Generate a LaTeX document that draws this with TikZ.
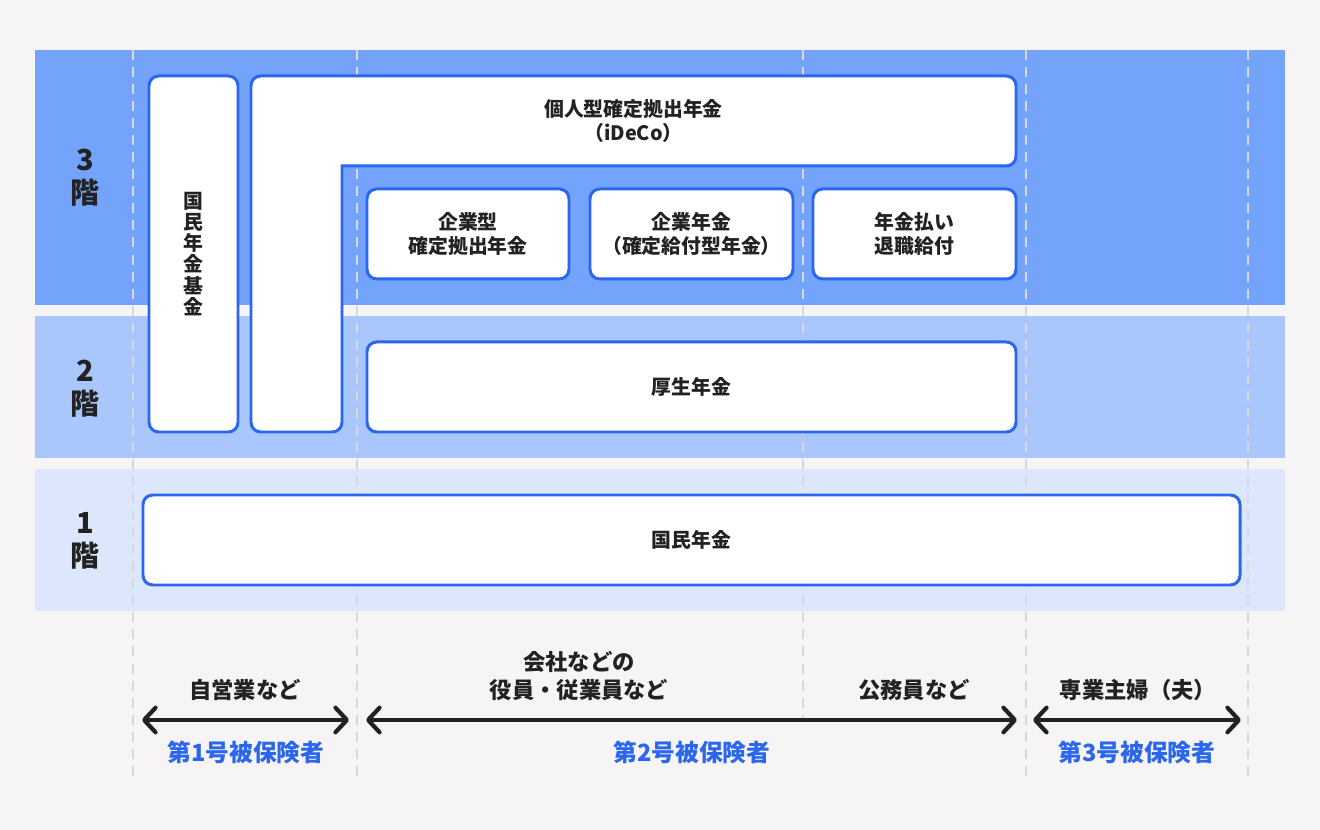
\documentclass[tikz,border=0pt]{standalone}
\usepackage{fontspec}
\setmainfont{Noto Sans CJK JP}
\usetikzlibrary{arrows.meta}
\definecolor{fond}{HTML}{F6F4F5}
\definecolor{etagetrois}{HTML}{74A3FC}
\definecolor{etagedeux}{HTML}{AAC7FD}
\definecolor{etageun}{HTML}{DCE7FD}
\definecolor{bordure}{HTML}{2B67EE}
\definecolor{encre}{HTML}{222222}
\definecolor{tirets}{HTML}{D8D8DC}

\begin{document}
\begin{tikzpicture}[x=0.02cm,y=-0.02cm,inner sep=0pt,
    boite/.style={draw=bordure,line width=1.7pt,fill=white,rounded corners=5.5pt,
      font=\fontsize{11.3}{14}\selectfont\bfseries,text=encre,align=center},
    regime/.style 2 args={boite,minimum width=#1*0.02cm,minimum height=#2*0.02cm},
    pointille/.style={draw=tirets,line width=1.4pt,dash pattern=on 5.7pt off 4pt},
    fleche/.style={draw=encre,line width=2.4pt,line cap=round,
      {Straight Barb[length=6.5pt,width=14pt,line join=round,line cap=round]}-{Straight Barb[length=6.5pt,width=14pt,line join=round,line cap=round]}},
    etage/.style={font=\fontsize{16.5}{18.7}\selectfont\bfseries,text=encre,align=center},
    categorie/.style={font=\fontsize{12.7}{15.9}\selectfont\bfseries,text=encre,align=center},
    assure/.style={font=\fontsize{13.5}{16}\selectfont\bfseries,text=bordure}]
  \useasboundingbox (0,0) rectangle (1320,830);
  % fond et étages
  \fill[fond] (0,0) rectangle (1320,830);
  \fill[etagetrois] (35,50) rectangle (1285,305);
  \fill[etagedeux] (35,316) rectangle (1285,458);
  \fill[etageun] (35,469) rectangle (1285,611);
  % séparations
  \foreach \x in {133,357,1026,1248}
    \draw[pointille] (\x,50) -- (\x,778);
  \draw[pointille] (803,50) -- (803,722);
  % étiquettes des étages
  \node[etage] (n3) at (85,178) {3\\階};
  \node[etage] (n2) at (85,389) {2\\階};
  \node[etage] (n1) at (85,541) {1\\階};
  % régimes
  \node[regime={89}{356},font=\fontsize{11.3}{12}\selectfont\bfseries] (kikin) at (193.5,254) {国\\民\\年\\金\\基\\金};
  \draw[boite] (296,432) -- (251,432) -- (251,76) -- (1016,76)
    -- (1016,166) [sharp corners] -- (342,166) [rounded corners=5.5pt] -- (342,432) -- cycle;
  \node[boite,draw=none,fill=none] (ideco) at (633.5,121) {個人型確定拠出年金\\（iDeCo）};
  \node[regime={202}{90}] (kigyogata) at (468,234) {企業型\\確定拠出年金};
  \node[regime={203}{90}] (kigyonenkin) at (691.5,234) {企業年金\\（確定給付型年金）};
  \node[regime={203}{90}] (taishoku) at (914.5,234) {年金払い\\退職給付};
  \node[regime={649}{90}] (kosei) at (691.5,387) {厚生年金};
  \node[regime={1097}{90}] (kokumin) at (691.5,540) {国民年金};
  % assurés
  \node[categorie] (jiei) at (245,690) {自営業など};
  \node[categorie] (kaisha) at (579,676) {会社などの\\役員・従業員など};
  \node[categorie] (komuin) at (914,690) {公務員など};
  \node[categorie] (sengyo) at (1138,690) {専業主婦（夫）};
  \coordinate (g1) at (142,720);
  \coordinate (d1) at (349,720);
  \coordinate (g2) at (366,720);
  \coordinate (d2) at (1017,720);
  \coordinate (g3) at (1033,720);
  \coordinate (d3) at (1241,720);
  \draw[fleche] (g1) -- (d1);
  \draw[fleche] (g2) -- (d2);
  \draw[fleche] (g3) -- (d3);
  \node[assure] (dai1) at (246,752) {第1号被保険者};
  \node[assure] (dai2) at (692,752) {第2号被保険者};
  \node[assure] (dai3) at (1137,752) {第3号被保険者};
\end{tikzpicture}
\end{document}
